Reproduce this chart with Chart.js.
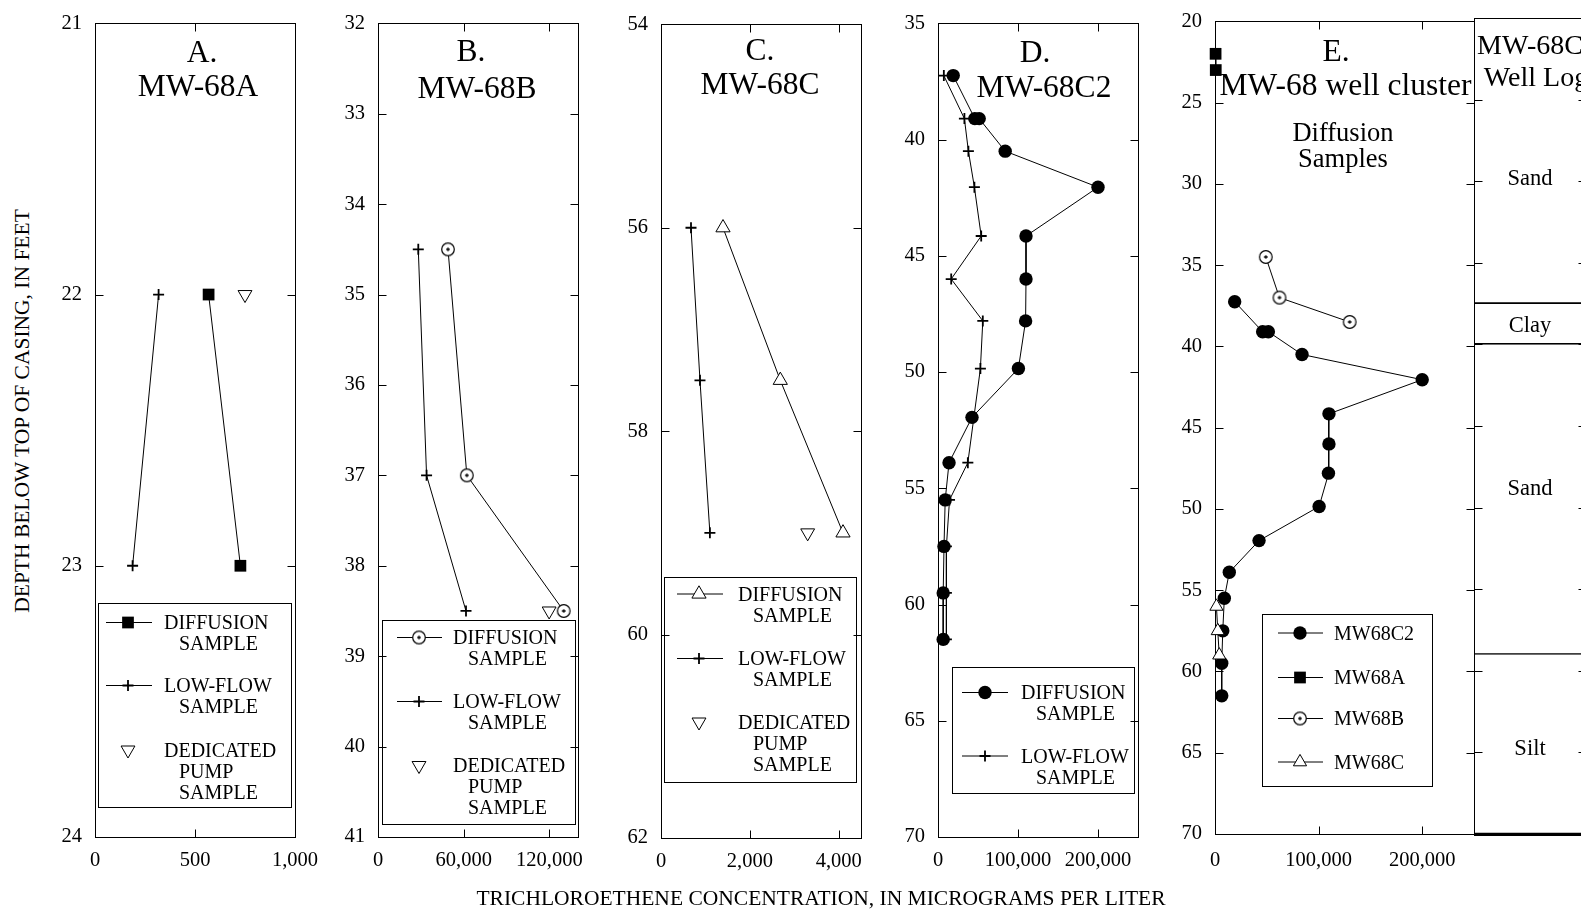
<!DOCTYPE html>
<html>
<head>
<meta charset="utf-8">
<script src="https://cdn.jsdelivr.net/npm/chart.js@4.4.0/dist/chart.umd.min.js"></script>
<style>
  html, body { margin: 0; padding: 0; background: #fff; overflow: hidden; }
  body { width: 1581px; height: 913px; position: relative; font-family: "Liberation Serif", "Times New Roman", serif; }
  canvas { position: absolute; }
  .axis-title { position: absolute; font-size: 21.5px; color: #000; white-space: nowrap; transform: translate(-50%, -50%); }
  #y-title { transform: translate(-50%, -50%) rotate(-90deg); }
</style>
</head>
<body>
<canvas id="cLog"></canvas>
<canvas id="cA"></canvas>
<canvas id="cB"></canvas>
<canvas id="cC"></canvas>
<canvas id="cD"></canvas>
<canvas id="cE"></canvas>
<div class="axis-title" id="x-title" style="left:821px; top:898px;">TRICHLOROETHENE CONCENTRATION, IN MICROGRAMS PER LITER</div>
<div class="axis-title" id="y-title" style="left:22px; top:411px;">DEPTH BELOW TOP OF CASING, IN FEET</div>
<script>
// MW-68A
const depthA = [22, 23];
const diffusionA = [568, 727];
const lowFlowA = [318, 188];
const pumpDepthA = [22];
const pumpA = [750];
const depthTicksA = [21, 22, 23, 24];
const concTicksA = [0, 500, 1000];

// MW-68B
const depthB = [34.5, 37, 38.5];
const diffusionB = [49000, 62200, 130000];
const lowFlowB = [28200, 34000, 61600];
const pumpDepthB = [38.5];
const pumpB = [119800];
const depthTicksB = [32, 33, 34, 35, 36, 37, 38, 39, 40, 41];
const concTicksB = [0, 60000, 120000];

// MW-68C
const depthC = [56, 57.5, 59];
const diffusionC = [1395, 2684, 4095];
const lowFlowC = [675, 877, 1100];
const pumpDepthC = [59];
const pumpC = [3300];
const depthTicksC = [54, 56, 58, 60, 62];
const concTicksC = [0, 2000, 4000];

// MW-68C2
const diffusionDepthD = [37.25, 39.1, 39.1, 40.5, 42.05, 44.15, 46.0, 47.8, 49.85, 51.95, 53.9, 55.5, 57.5, 59.5, 61.5];
const diffusionD = [19000, 46000, 51500, 84000, 200000, 110000, 110000, 109500, 100500, 42500, 13800, 9000, 7500, 6500, 6500];
const lowFlowDepthD = [37.25, 39.1, 40.5, 42.05, 44.15, 46.0, 47.8, 49.85, 53.9, 55.5, 57.5, 59.5, 61.5];
const lowFlowD = [7300, 33000, 38000, 45500, 54000, 16500, 56000, 53000, 37300, 14400, 10500, 10500, 10500];
const depthTicksD = [35, 40, 45, 50, 55, 60, 65, 70];
const concTicksD = [0, 100000, 200000];

// MW-68 well cluster
const depthTicksE = [20, 25, 30, 35, 40, 45, 50, 55, 60, 65, 70];
const concTicksE = [0, 100000, 200000];

// MW-68C2 well log
const layerNames = ['Sand', 'Clay', 'Sand', 'Silt'];
const layerTops = [20, 37.5, 40, 59];
const layerBottoms = [37.5, 40, 59, 70];
const layerLabelDepths = [29.75, 38.8, 48.75, 64.7];

const FONT = "'Liberation Serif', 'Times New Roman', serif";
Chart.defaults.font.family = FONT;
Chart.defaults.color = '#000';

const PAD_L = 60, PAD_T = 22, PAD_R = 42, PAD_B = 52, TICK = 8;
const LEGEND_SIZE = 20, LEGEND_GAP = 21;
const TITLE_SIZE = 31.5;

// hollow circle with a small cross in the middle
function ringDot(radius) {
  const size = Math.ceil(radius * 2 + 3);
  const c = document.createElement('canvas');
  c.width = c.height = size;
  const g = c.getContext('2d');
  const m = size / 2;
  g.beginPath();
  g.arc(m, m, radius, 0, Math.PI * 2);
  g.fillStyle = '#fff';
  g.fill();
  g.lineWidth = 1.2;
  g.strokeStyle = '#000';
  g.stroke();
  g.beginPath();
  g.moveTo(m - 1.8, m); g.lineTo(m + 1.8, m);
  g.moveTo(m, m - 1.8); g.lineTo(m, m + 1.8);
  g.lineWidth = 1.3;
  g.stroke();
  return c;
}

const MARK = {
  square: { pointStyle: 'rect', pointRadius: 8.3, pointBackgroundColor: '#000', pointBorderColor: '#000', pointBorderWidth: 0 },
  plus: { pointStyle: 'cross', pointRadius: 5.5, pointBackgroundColor: '#000', pointBorderColor: '#000', pointBorderWidth: 1.8 },
  pump: { pointStyle: 'triangle', pointRotation: 180, pointRadius: 8, pointBackgroundColor: '#fff', pointBorderColor: '#000', pointBorderWidth: 1 },
  openTri: { pointStyle: 'triangle', pointRadius: 8.2, pointBackgroundColor: '#fff', pointBorderColor: '#000', pointBorderWidth: 1 },
  dot: { pointStyle: 'circle', pointRadius: 6.7, pointBackgroundColor: '#000', pointBorderColor: '#000', pointBorderWidth: 0 },
  ring: { pointStyle: ringDot(6.3), pointRadius: 6.3, pointBackgroundColor: '#fff', pointBorderColor: '#000', pointBorderWidth: 0 }
};

function series(label, xs, ys, marker, showLine = true) {
  return Object.assign({
    label,
    data: xs.map((x, i) => ({ x, y: ys[i] })),
    showLine,
    borderColor: '#000',
    borderWidth: 1,
    clip: false
  }, marker);
}

function concAxis(max, tickValues, labelPad = 11) {
  return {
    type: 'linear', min: 0, max,
    afterBuildTicks: s => { s.ticks = tickValues.map(v => ({ value: v })); },
    afterFit: s => { s.height = PAD_B; },
    grid: { display: false, drawTicks: false },
    border: { display: false },
    ticks: {
      font: { size: 20.5 }, color: '#000', padding: labelPad, maxRotation: 0, autoSkip: false,
      callback: v => Number(v).toLocaleString('en-US')
    }
  };
}

function depthAxis(min, max, tickValues, showLabels = true) {
  return {
    type: 'linear', reverse: true, min, max,
    afterBuildTicks: s => { s.ticks = tickValues.map(v => ({ value: v })); },
    afterFit: s => { s.width = PAD_L; },
    grid: { display: false, drawTicks: false },
    border: { display: false },
    ticks: { display: showLabels, font: { size: 20.5 }, color: '#000', padding: 13, autoSkip: false }
  };
}

// box round the plot area with inward tick marks on all four sides
function framePlugin(thickBottom) {
  return {
    id: 'frame',
    beforeDatasetsDraw(chart) {
      const { ctx, chartArea: a, scales: { x, y } } = chart;
      const L = Math.round(a.left) + 0.5, R = Math.round(a.right) + 0.5;
      const T = Math.round(a.top) + 0.5, B = Math.round(a.bottom) + 0.5;
      ctx.save();
      ctx.strokeStyle = '#000';
      ctx.lineWidth = 1;
      ctx.strokeRect(L, T, R - L, B - T);
      ctx.beginPath();
      if (x.type === 'linear') {
        x.ticks.forEach(t => {
          if (t.value <= x.min || t.value >= x.max) return;
          const px = Math.round(x.getPixelForValue(t.value)) + 0.5;
          ctx.moveTo(px, T); ctx.lineTo(px, T + TICK);
          ctx.moveTo(px, B); ctx.lineTo(px, B - TICK);
        });
      }
      y.ticks.forEach(t => {
        if (t.value <= y.min || t.value >= y.max) return;
        const py = Math.round(y.getPixelForValue(t.value)) + 0.5;
        ctx.moveTo(L, py); ctx.lineTo(L + TICK, py);
        ctx.moveTo(R, py); ctx.lineTo(R - TICK, py);
      });
      ctx.stroke();
      if (thickBottom) {
        ctx.lineWidth = 3;
        ctx.beginPath();
        ctx.moveTo(L - 0.5, B); ctx.lineTo(R + 0.5, B);
        ctx.stroke();
      }
      ctx.restore();
    }
  };
}

function drawLegend(ctx, chart, lg) {
  const b = lg.box;
  ctx.lineWidth = 1;
  ctx.strokeStyle = '#000';
  ctx.strokeRect(b.l + 0.5, b.t + 0.5, b.r - b.l, b.b - b.t);
  ctx.font = LEGEND_SIZE + 'px ' + FONT;
  ctx.textAlign = 'left';
  lg.entries.forEach(e => {
    const ds = chart.data.datasets[e.ds];
    if (ds.showLine) {
      ctx.beginPath();
      ctx.lineWidth = 1;
      ctx.strokeStyle = '#000';
      ctx.moveTo(lg.x1, e.y); ctx.lineTo(lg.x2, e.y);
      ctx.stroke();
    }
    ctx.fillStyle = ds.pointBackgroundColor;
    ctx.strokeStyle = ds.pointBorderColor;
    ctx.lineWidth = ds.pointBorderWidth;
    Chart.helpers.drawPoint(ctx, {
      pointStyle: ds.pointStyle, radius: ds.pointRadius,
      rotation: ds.pointRotation || 0, borderWidth: ds.pointBorderWidth
    }, lg.mx, e.y);
    ctx.fillStyle = '#000';
    e.lines.forEach((txt, i) => {
      ctx.fillText(txt, i === 0 ? lg.tx : lg.tx2, e.y + i * LEGEND_GAP + 0.33 * LEGEND_SIZE);
    });
  });
}

function overlayPlugin(spec, originX, originY) {
  return {
    id: 'overlay',
    afterDraw(chart) {
      const ctx = chart.ctx;
      ctx.save();
      ctx.translate(-originX, -originY);
      ctx.fillStyle = '#000';
      ctx.textAlign = 'center';
      (spec.titles || []).forEach(t => {
        ctx.font = t.size + 'px ' + FONT;
        ctx.fillText(t.text, t.x, t.y + 0.33 * t.size);
      });
      if (spec.legend) drawLegend(ctx, chart, spec.legend);
      ctx.restore();
    }
  };
}

const logLabelPlugin = {
  id: 'logLabels',
  afterDraw(chart) {
    const { ctx, chartArea: a, scales: { y } } = chart;
    ctx.save();
    ctx.font = '22.5px ' + FONT;
    ctx.textAlign = 'center';
    ctx.fillStyle = '#000';
    layerNames.forEach((n, i) => {
      ctx.fillText(n, (a.left + a.right) / 2, y.getPixelForValue(layerLabelDepths[i]) + 0.33 * 22.5);
    });
    ctx.restore();
  }
};

function makePanel(id, box, spec) {
  const cv = document.getElementById(id);
  const left = box.l - PAD_L, top = box.t - PAD_T;
  cv.width = box.r - box.l + PAD_L + PAD_R;
  cv.height = box.b - box.t + PAD_T + PAD_B;
  cv.style.left = left + 'px';
  cv.style.top = top + 'px';
  const plugins = [framePlugin(spec.thickBottom), overlayPlugin(spec, left, top)].concat(spec.extraPlugins || []);
  return new Chart(cv, {
    type: spec.type || 'scatter',
    data: spec.data,
    options: {
      responsive: false,
      animation: false,
      events: [],
      layout: { autoPadding: false, padding: { left: 0, top: PAD_T, right: PAD_R, bottom: 0 } },
      plugins: { legend: { display: false }, tooltip: { enabled: false } },
      scales: { x: spec.x, y: spec.y }
    },
    plugins
  });
}

const sampleLegend = (box, x1, x2, mx, tx, ys) => ({
  box, x1, x2, mx, tx, tx2: tx + 15,
  entries: [
    { ds: 0, y: ys[0], lines: ['DIFFUSION', 'SAMPLE'] },
    { ds: 1, y: ys[1], lines: ['LOW-FLOW', 'SAMPLE'] },
    { ds: 2, y: ys[2], lines: ['DEDICATED', 'PUMP', 'SAMPLE'] }
  ].filter(e => e.y !== undefined)
});

// A. MW-68A
makePanel('cA', { l: 95, r: 295, t: 20, b: 837 }, {
  data: { datasets: [
    series('Diffusion sample', diffusionA, depthA, MARK.square),
    series('Low-flow sample', lowFlowA, depthA, MARK.plus),
    series('Dedicated pump sample', pumpA, pumpDepthA, MARK.pump, false)
  ] },
  x: concAxis(1000, concTicksA),
  y: depthAxis(21, 24, depthTicksA),
  titles: [
    { text: 'A.', x: 202, y: 51.3, size: TITLE_SIZE },
    { text: 'MW-68A', x: 198, y: 85.8, size: TITLE_SIZE }
  ],
  legend: sampleLegend({ l: 98, t: 603, r: 291, b: 807 }, 106, 152, 128, 164, [622.5, 685.5, 750])
});

// B. MW-68B
makePanel('cB', { l: 378, r: 578, t: 20, b: 837 }, {
  data: { datasets: [
    series('Diffusion sample', diffusionB, depthB, MARK.ring),
    series('Low-flow sample', lowFlowB, depthB, MARK.plus),
    series('Dedicated pump sample', pumpB, pumpDepthB, MARK.pump, false)
  ] },
  x: concAxis(140000, concTicksB),
  y: depthAxis(32, 41, depthTicksB),
  titles: [
    { text: 'B.', x: 471, y: 51, size: TITLE_SIZE },
    { text: 'MW-68B', x: 477, y: 88, size: TITLE_SIZE }
  ],
  legend: sampleLegend({ l: 382, t: 620, r: 575, b: 824 }, 397, 442, 419, 453, [637.5, 701.5, 765.5])
});

// C. MW-68C
makePanel('cC', { l: 661, r: 861, t: 21, b: 838 }, {
  data: { datasets: [
    series('Diffusion sample', diffusionC, depthC, MARK.openTri),
    series('Low-flow sample', lowFlowC, depthC, MARK.plus),
    series('Dedicated pump sample', pumpC, pumpDepthC, MARK.pump, false)
  ] },
  x: concAxis(4500, concTicksC),
  y: depthAxis(54, 62, depthTicksC),
  titles: [
    { text: 'C.', x: 760, y: 50, size: TITLE_SIZE },
    { text: 'MW-68C', x: 760, y: 83.5, size: TITLE_SIZE }
  ],
  legend: sampleLegend({ l: 664, t: 577, r: 856, b: 782 }, 677, 723, 699, 738, [594, 658.5, 722])
});

// D. MW-68C2
makePanel('cD', { l: 938, r: 1138, t: 20, b: 837 }, {
  data: { datasets: [
    series('Diffusion sample', diffusionD, diffusionDepthD, MARK.dot),
    series('Low-flow sample', lowFlowD, lowFlowDepthD, MARK.plus)
  ] },
  x: concAxis(250000, concTicksD),
  y: depthAxis(35, 70, depthTicksD),
  titles: [
    { text: 'D.', x: 1035, y: 51.3, size: TITLE_SIZE },
    { text: 'MW-68C2', x: 1044, y: 86.3, size: TITLE_SIZE }
  ],
  legend: sampleLegend({ l: 952, t: 667, r: 1134, b: 793 }, 962, 1008, 985, 1021, [692.5, 756])
});

// MW-68C2 well log, drawn as floating bars on the same depth scale as E
makePanel('cLog', { l: 1474, r: 1586, t: 18, b: 834 }, {
  type: 'bar',
  thickBottom: true,
  data: {
    labels: ['MW-68C2'],
    datasets: layerNames.map((name, i) => ({
      label: name,
      data: [[layerTops[i], layerBottoms[i]]],
      grouped: false,
      barPercentage: 1,
      categoryPercentage: 1,
      backgroundColor: 'rgba(0,0,0,0)',
      borderColor: '#000',
      borderWidth: { top: 0, right: 0, bottom: 1, left: 0 },
      borderSkipped: false
    }))
  },
  x: {
    type: 'category',
    afterFit: s => { s.height = PAD_B; },
    grid: { display: false, drawTicks: false },
    border: { display: false },
    ticks: { display: false }
  },
  y: depthAxis(20, 70, depthTicksE, false),
  titles: [
    { text: 'MW-68C2', x: 1537, y: 45, size: 28 },
    { text: 'Well Log', x: 1536, y: 76.7, size: 28 }
  ],
  extraPlugins: [logLabelPlugin]
});

// E. MW-68 well cluster, diffusion samples
makePanel('cE', { l: 1215, r: 1474, t: 18, b: 834 }, {
  data: { datasets: [
    series('MW68C2', diffusionD, diffusionDepthD, MARK.dot),
    series('MW68A', diffusionA, depthA, MARK.square),
    series('MW68B', diffusionB, depthB, MARK.ring),
    Object.assign(series('MW68C', diffusionC, depthC, Object.assign({}, MARK.openTri, { pointRadius: 7.6 })), { order: -1 })
  ] },
  x: concAxis(250000, concTicksE, 14),
  y: depthAxis(20, 70, depthTicksE),
  titles: [
    { text: 'E.', x: 1336, y: 50.5, size: TITLE_SIZE },
    { text: 'MW-68 well cluster', x: 1345.5, y: 85, size: TITLE_SIZE },
    { text: 'Diffusion', x: 1343, y: 132, size: 26.5 },
    { text: 'Samples', x: 1343, y: 158.3, size: 26.5 }
  ],
  legend: {
    box: { l: 1262, t: 614, r: 1432, b: 786 },
    x1: 1278, x2: 1323, mx: 1300, tx: 1334, tx2: 1334,
    entries: [
      { ds: 0, y: 633, lines: ['MW68C2'] },
      { ds: 1, y: 677.5, lines: ['MW68A'] },
      { ds: 2, y: 718.5, lines: ['MW68B'] },
      { ds: 3, y: 762, lines: ['MW68C'] }
    ]
  }
});
</script>
</body>
</html>
